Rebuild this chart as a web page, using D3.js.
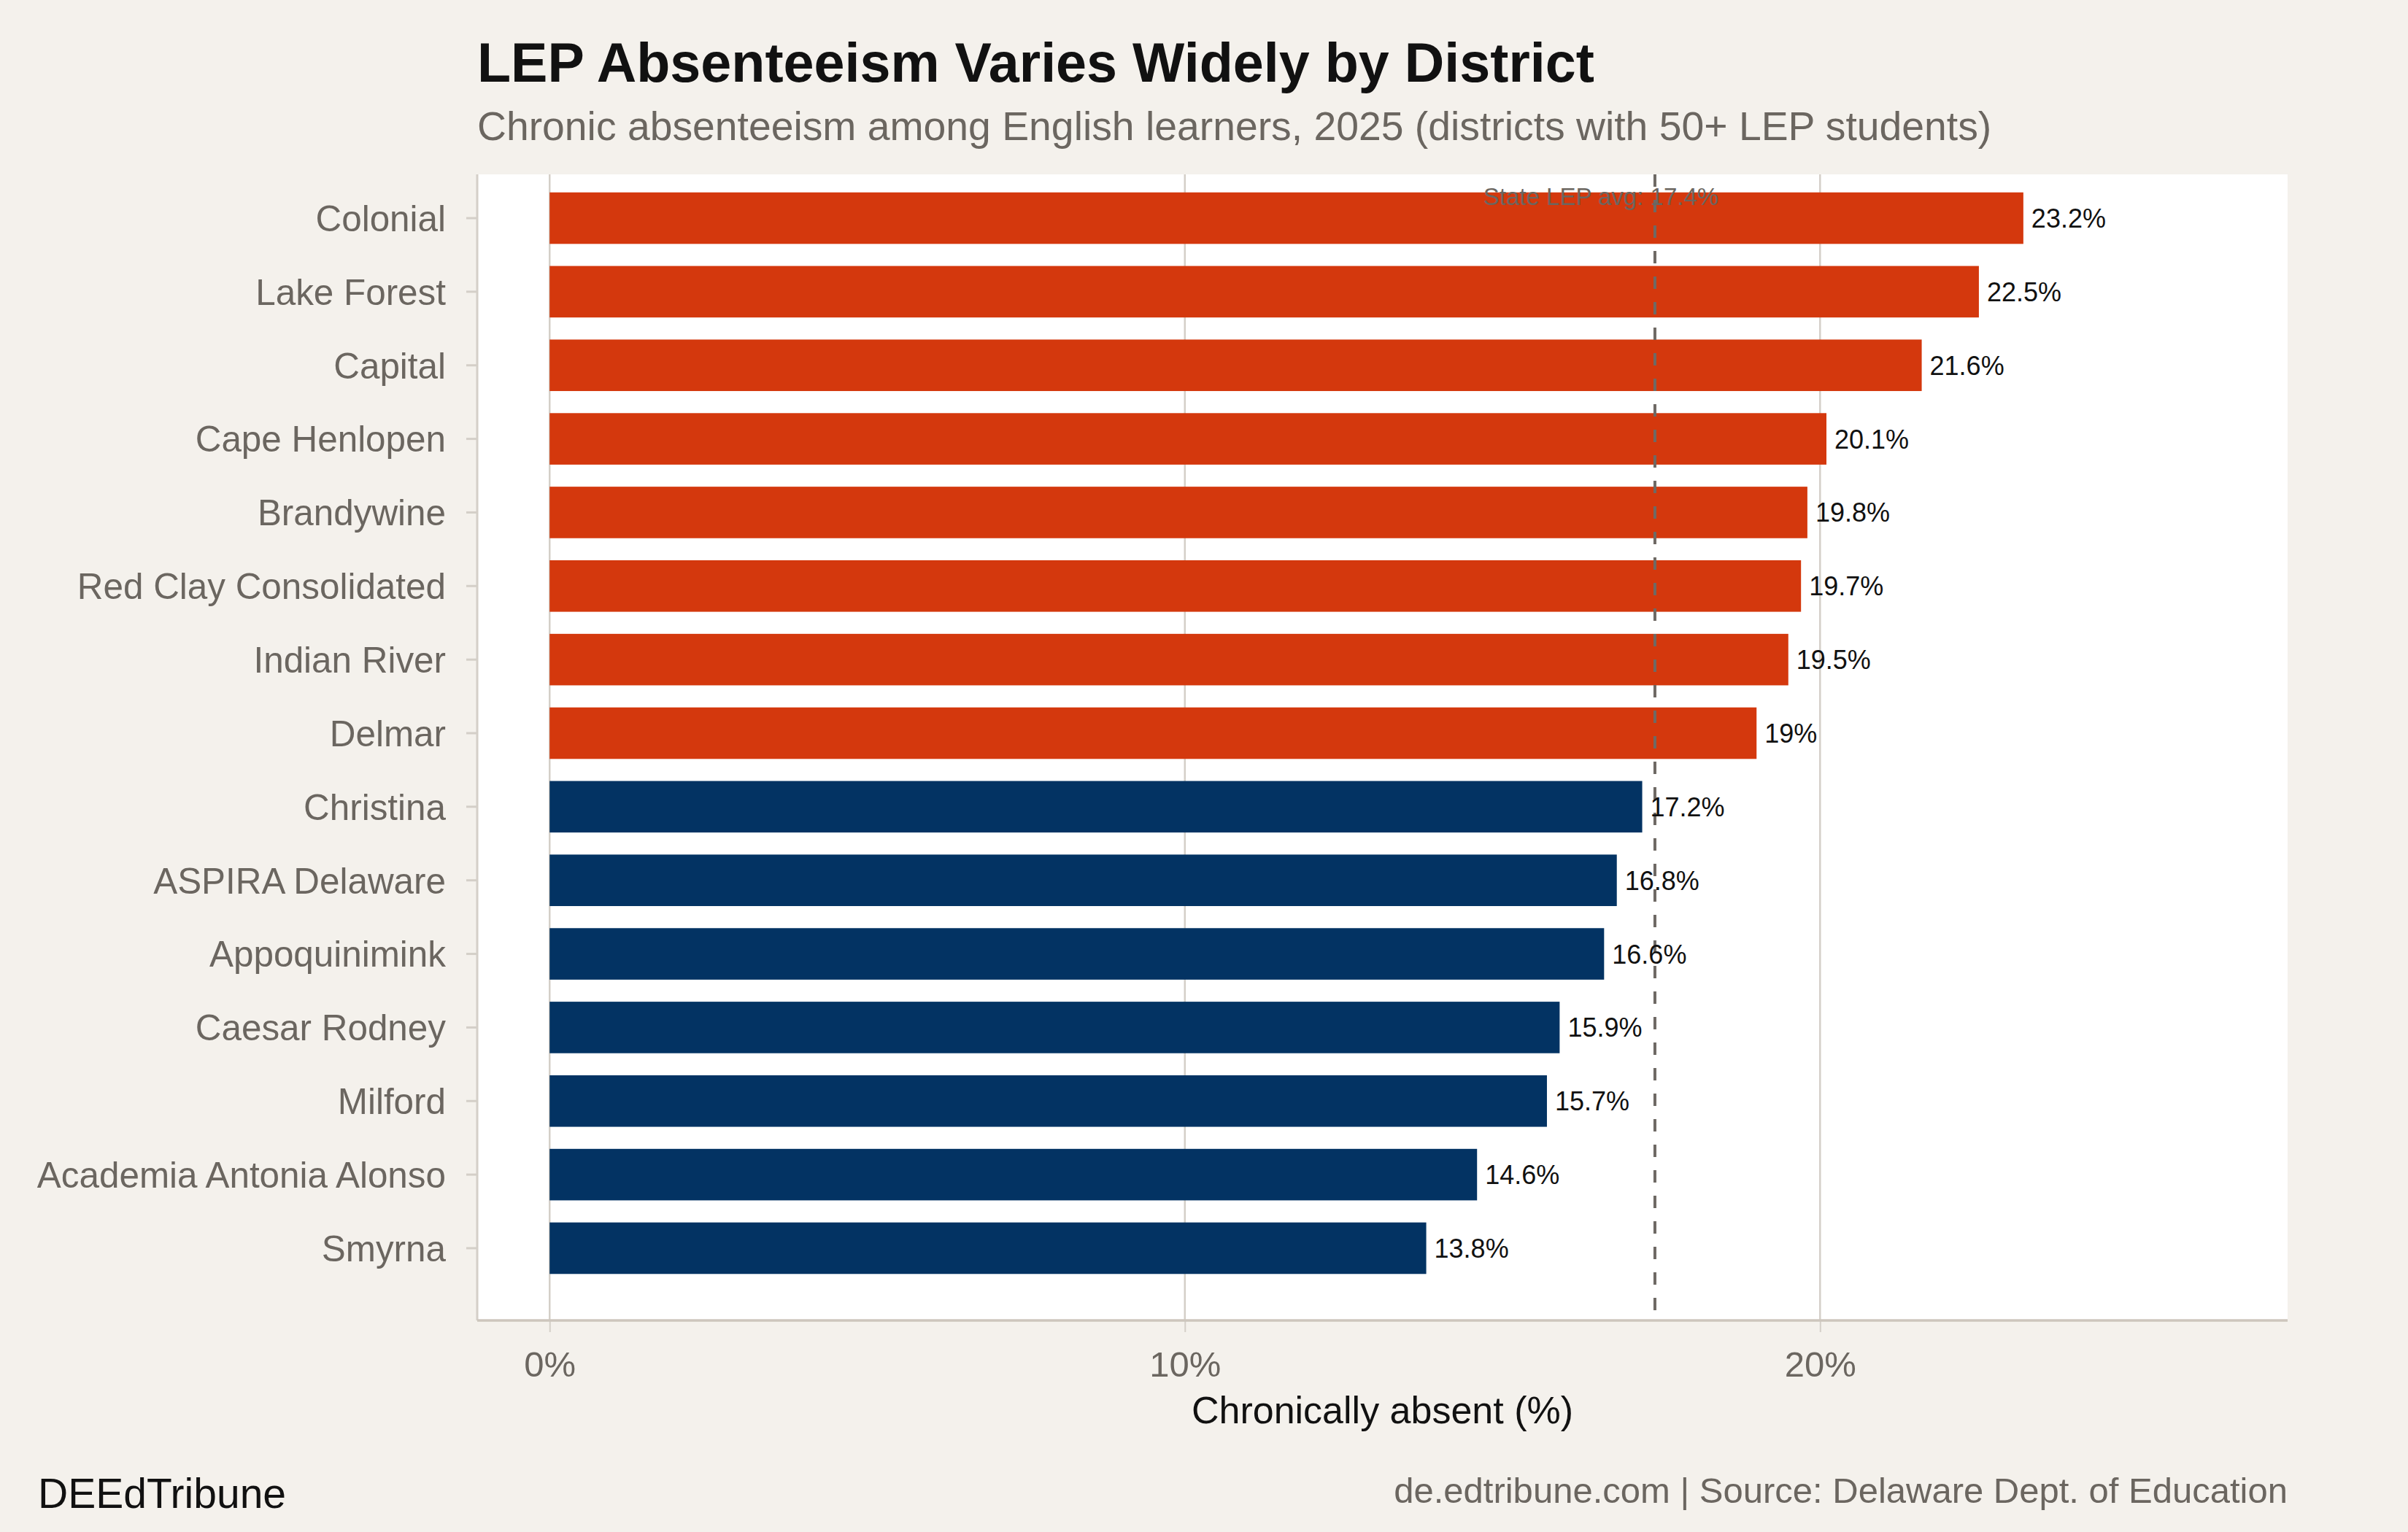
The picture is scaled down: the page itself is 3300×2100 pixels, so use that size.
<!DOCTYPE html>
<html>
<head>
<meta charset="utf-8">
<script src="https://cdn.jsdelivr.net/npm/d3@7"></script>
<style>
  body { margin: 0; background: #f4f1ec; }
  svg { display: block; font-family: "Liberation Sans", Arial, Helvetica, sans-serif; }
</style>
</head>
<body>
<svg id="chart"></svg>
<script>
// data
var districts = ["Colonial", "Lake Forest", "Capital", "Cape Henlopen", "Brandywine",
  "Red Clay Consolidated", "Indian River", "Delmar", "Christina", "ASPIRA Delaware",
  "Appoquinimink", "Caesar Rodney", "Milford", "Academia Antonia Alonso", "Smyrna"];
var absentPct = [23.2, 22.5, 21.6, 20.1, 19.8, 19.7, 19.5, 19, 17.2, 16.8, 16.6, 15.9, 15.7, 14.6, 13.8];
var stateAvg = 17.4;
var xTicks = [0, 10, 20];

var width = 3300
  , height = 2100
  , panel = {left: 654, right: 3135, top: 239, bottom: 1810}
  , red = "#d4380d"
  , navy = "#033363"
  , grey = "#6b6660"
  , lineCol = "#d4cfc8";

var rows = districts.map(function(d, i){ return {name: d, value: absentPct[i]}; });

var svg = d3.select("#chart")
  .attr("width", width)
  .attr("height", height);

svg.append("rect")
  .attr("width", width).attr("height", height)
  .attr("fill", "#f4f1ec");

var x = d3.scaleLinear()
  .domain([-1.14, 27.36])
  .range([panel.left, panel.right]);

var y = d3.scaleBand()
  .domain(districts)
  .range([248.6, 1761.4])
  .paddingInner(0.3)
  .paddingOuter(0.15);

// panel
svg.append("rect")
  .attr("x", panel.left).attr("y", panel.top)
  .attr("width", panel.right - panel.left)
  .attr("height", panel.bottom - panel.top)
  .attr("fill", "#ffffff");

// vertical grid
svg.selectAll(".grid")
  .data(xTicks)
 .enter().append("line")
  .attr("class", "grid")
  .attr("x1", d => x(d)).attr("x2", d => x(d))
  .attr("y1", panel.top).attr("y2", panel.bottom)
  .attr("stroke", lineCol)
  .attr("stroke-width", 2.5);

// bars
svg.selectAll(".bar")
  .data(rows)
 .enter().append("rect")
  .attr("class", "bar")
  .attr("x", x(0))
  .attr("y", d => y(d.name))
  .attr("width", d => x(d.value) - x(0))
  .attr("height", y.bandwidth())
  .attr("fill", d => d.value > stateAvg ? red : navy);

// state average line
svg.append("line")
  .attr("x1", x(stateAvg)).attr("x2", x(stateAvg))
  .attr("y1", panel.top).attr("y2", panel.bottom)
  .attr("stroke", "#6e6964")
  .attr("stroke-width", 4)
  .attr("stroke-dasharray", "17,18");

svg.append("text")
  .attr("x", x(stateAvg - 0.85))
  .attr("y", 281)
  .attr("text-anchor", "middle")
  .attr("font-size", 33)
  .attr("fill", grey)
  .text("State LEP avg: " + stateAvg + "%");

// value labels
svg.selectAll(".val")
  .data(rows)
 .enter().append("text")
  .attr("class", "val")
  .attr("x", d => x(d.value) + 11)
  .attr("y", d => y(d.name) + y.bandwidth() / 2)
  .attr("dy", "0.36em")
  .attr("font-size", 36)
  .attr("fill", "#111")
  .text(d => d.value + "%");

// axes
var yAxis = svg.append("g")
  .attr("transform", "translate(" + panel.left + ",0)")
  .call(d3.axisLeft(y).tickSize(15).tickPadding(28));
yAxis.select(".domain").remove();
yAxis.selectAll(".tick line").attr("stroke", lineCol).attr("stroke-width", 3);
yAxis.selectAll(".tick text")
  .attr("font-size", 49.4)
  .attr("fill", grey)
  .attr("font-family", null)
  .attr("dy", "0.36em");

svg.append("line")
  .attr("x1", panel.left).attr("x2", panel.left)
  .attr("y1", panel.top).attr("y2", panel.bottom)
  .attr("stroke", lineCol).attr("stroke-width", 3);

var xAxis = svg.append("g")
  .attr("transform", "translate(0," + panel.bottom + ")")
  .call(d3.axisBottom(x).tickValues(xTicks).tickSize(16).tickPadding(26).tickFormat(d => d + "%"));
xAxis.select(".domain").remove();
xAxis.selectAll(".tick line").attr("stroke", lineCol).attr("stroke-width", 2);
xAxis.selectAll(".tick text")
  .attr("font-size", 49)
  .attr("fill", grey)
  .attr("font-family", null);

svg.append("line")
  .attr("x1", panel.left).attr("x2", panel.right)
  .attr("y1", panel.bottom).attr("y2", panel.bottom)
  .attr("stroke", "#cdc6bd").attr("stroke-width", 3.5);

// titles
svg.append("text")
  .attr("x", panel.left).attr("y", 112)
  .attr("font-size", 75.5).attr("font-weight", "bold")
  .attr("fill", "#111")
  .text("LEP Absenteeism Varies Widely by District");

svg.append("text")
  .attr("x", panel.left).attr("y", 192)
  .attr("font-size", 55.3)
  .attr("fill", grey)
  .text("Chronic absenteeism among English learners, 2025 (districts with 50+ LEP students)");

svg.append("text")
  .attr("x", (panel.left + panel.right) / 2).attr("y", 1951)
  .attr("text-anchor", "middle")
  .attr("font-size", 52)
  .attr("fill", "#111")
  .text("Chronically absent (%)");

svg.append("text")
  .attr("x", 52).attr("y", 2067)
  .attr("font-size", 57)
  .attr("fill", "#111")
  .text("DEEdTribune");

svg.append("text")
  .attr("x", panel.right).attr("y", 2060)
  .attr("text-anchor", "end")
  .attr("font-size", 49)
  .attr("fill", grey)
  .text("de.edtribune.com | Source: Delaware Dept. of Education");
</script>
</body>
</html>
